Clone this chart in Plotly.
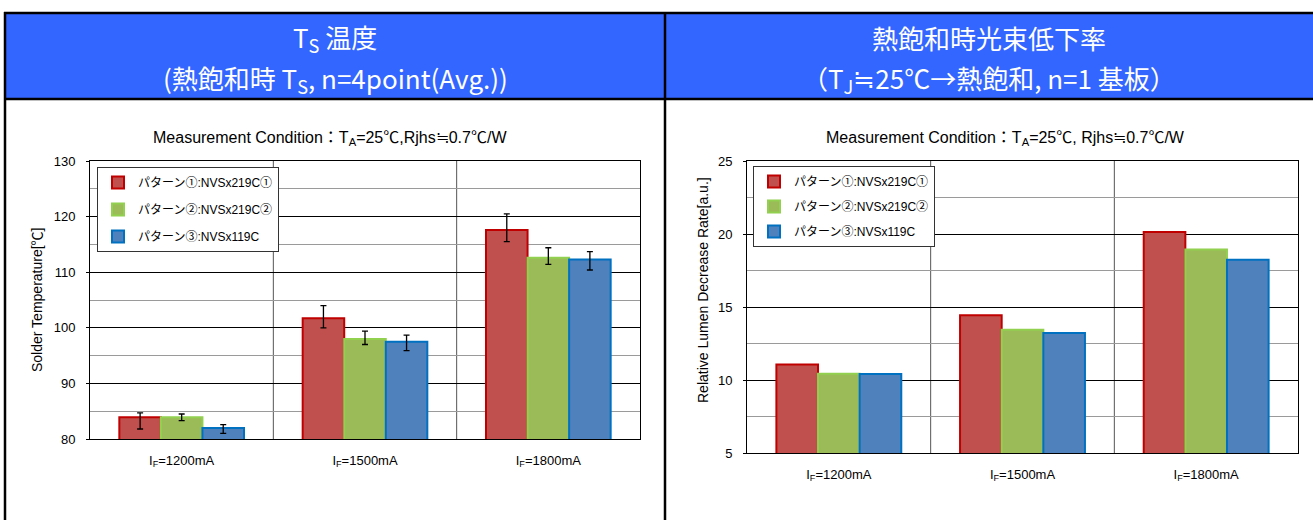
import plotly.graph_objects as go

W, H = 1313, 520

categories = ["I<sub>F</sub>=1200mA", "I<sub>F</sub>=1500mA", "I<sub>F</sub>=1800mA"]
series_names = ["パターン①:NVSx219C①", "パターン②:NVSx219C②", "パターン③:NVSx119C"]

# Left chart: solder temperature (average) with error bars (max/min)
ts_p1 = [83.9, 101.7, 117.6]
ts_p1_up = [0.8, 2.3, 2.9]
ts_p1_dn = [2.1, 1.7, 2.1]
ts_p2 = [83.9, 98.0, 112.6]
ts_p2_up = [0.6, 1.4, 1.8]
ts_p2_dn = [0.6, 1.0, 1.2]
ts_p3 = [82.0, 97.5, 112.3]
ts_p3_up = [0.6, 1.2, 1.4]
ts_p3_dn = [1.0, 1.6, 1.9]

# Right chart: relative lumen decrease rate
lum_p1 = [11.07, 14.43, 20.14]
lum_p2 = [10.43, 13.45, 18.93]
lum_p3 = [10.41, 13.22, 18.24]

fills = ["#C0504D", "#9BBB59", "#4F81BD"]
edges = ["#C00000", "#92D050", "#0070C0"]

FONT = "Liberation Sans, Noto Sans CJK JP, sans-serif"
CJK = "Noto Sans CJK JP, sans-serif"

def px(x):
    return x / W

def py(y):
    return 1 - y / H

fig = go.Figure()

ts_vals = [ts_p1, ts_p2, ts_p3]
ts_up = [ts_p1_up, ts_p2_up, ts_p3_up]
ts_dn = [ts_p1_dn, ts_p2_dn, ts_p3_dn]
for i in range(3):
    fig.add_trace(go.Bar(
        x=categories, y=ts_vals[i], name=series_names[i],
        marker=dict(color=fills[i], line=dict(color=edges[i], width=2)),
        error_y=dict(type="data", symmetric=False, array=ts_up[i], arrayminus=ts_dn[i],
                     color="black", thickness=1.3, width=3),
        xaxis="x", yaxis="y", legend="legend", legendgroup="a%d" % i,
    ))

lum_vals = [lum_p1, lum_p2, lum_p3]
for i in range(3):
    fig.add_trace(go.Bar(
        x=categories, y=lum_vals[i], name=series_names[i],
        marker=dict(color=fills[i], line=dict(color=edges[i], width=2)),
        xaxis="x2", yaxis="y2", legend="legend2", legendgroup="b%d" % i,
    ))

# plot geometry (pixels)
L1, R1, T1, B1 = 90, 640, 161, 439
L2, R2, T2, B2 = 747, 1298, 161, 453

axis_common = dict(showline=True, linecolor="black", linewidth=1, mirror=True, automargin=False,
                   tickfont=dict(family=FONT, size=13, color="black"))

fig.update_layout(
    width=W, height=H, margin=dict(l=0, r=0, t=0, b=0, autoexpand=False),
    paper_bgcolor="white", plot_bgcolor="white",
    barmode="group", bargap=0.32, bargroupgap=0,
    font=dict(family=FONT, size=12, color="black"),
    xaxis=dict(domain=[px(L1), px(R1)], anchor="y", showgrid=False, range=[-0.5, 2.5],
               ticks="", ticklabelstandoff=9, **axis_common),
    yaxis=dict(domain=[py(B1), py(T1)], anchor="x", range=[80, 130], dtick=10,
               showgrid=True, gridcolor="black", gridwidth=1,
               minor=dict(dtick=5, showgrid=True, gridcolor="#9a9a9a", gridwidth=1),
               ticks="outside", ticklen=3, tickcolor="black", ticklabelstandoff=8, **axis_common),
    xaxis2=dict(domain=[px(L2), px(R2)], anchor="y2", showgrid=False, range=[-0.5, 2.5],
                ticks="", ticklabelstandoff=9, **axis_common),
    yaxis2=dict(domain=[py(B2), py(T2)], anchor="x2", range=[5, 25], dtick=5,
                showgrid=True, gridcolor="black", gridwidth=1,
                minor=dict(dtick=2.5, showgrid=True, gridcolor="#9a9a9a", gridwidth=1),
                ticks="outside", ticklen=3, tickcolor="black", ticklabelstandoff=8, **axis_common),
    legend=dict(x=px(97), y=py(167), xanchor="left", yanchor="top",
                bgcolor="white", bordercolor="#333", borderwidth=1,
                font=dict(family=FONT, size=12), tracegroupgap=8, itemwidth=30),
    legend2=dict(x=px(753), y=py(166), xanchor="left", yanchor="top",
                 bgcolor="white", bordercolor="#333", borderwidth=1,
                 font=dict(family=FONT, size=12), tracegroupgap=6, itemwidth=30),
    showlegend=True,
)

shapes = []
# header band
shapes.append(dict(type="rect", xref="paper", yref="paper", x0=px(5), x1=px(1313), y0=py(99), y1=py(13),
                   fillcolor="#3366FF", line=dict(width=0), layer="below"))
for yy in (13, 99):
    shapes.append(dict(type="line", xref="paper", yref="paper", x0=px(4), x1=1, y0=py(yy), y1=py(yy),
                       line=dict(color="black", width=2.5)))
for xx in (5, 665):
    shapes.append(dict(type="line", xref="paper", yref="paper", x0=px(xx), x1=px(xx), y0=0, y1=py(12),
                       line=dict(color="black", width=2.5)))
# category dividers
for ax, ya in (("x", "y"), ("x2", "y2")):
    for xv in (0.5, 1.5):
        shapes.append(dict(type="line", xref=ax, yref=ya + " domain", x0=xv, x1=xv, y0=0, y1=1,
                           line=dict(color="#555", width=1), layer="below"))
fig.update_layout(shapes=shapes)

ann = []
def text(x, y, s, size, color="black", family=FONT, angle=0):
    ann.append(dict(x=px(x), y=py(y), xref="paper", yref="paper", text=s, showarrow=False,
                    font=dict(size=size, color=color, family=family), textangle=angle,
                    xanchor="center", yanchor="middle"))

text(335, 38, "T<sub>S</sub> 温度", 26, "white", CJK)
text(335, 79, "(熱飽和時 T<sub>S</sub>, n=4point(Avg.))", 26, "white", CJK)
text(989, 38, "熱飽和時光束低下率", 26, "white", CJK)
text(989, 79, "（T<sub>J</sub>≒25℃→熱飽和, n=1 基板）", 26, "white", CJK)

text(330, 139, "Measurement Condition：T<sub>A</sub>=25℃,Rjhs≒0.7℃/W", 16)
text(1005, 139, "Measurement Condition：T<sub>A</sub>=25℃, Rjhs≒0.7℃/W", 16)

text(37, 300, "Solder Temperature[℃]", 14, angle=-90)
text(703, 290, "Relative Lumen Decrease Rate[a.u.]", 14, angle=-90)

fig.update_layout(annotations=ann)

fig.write_html("out.html")
